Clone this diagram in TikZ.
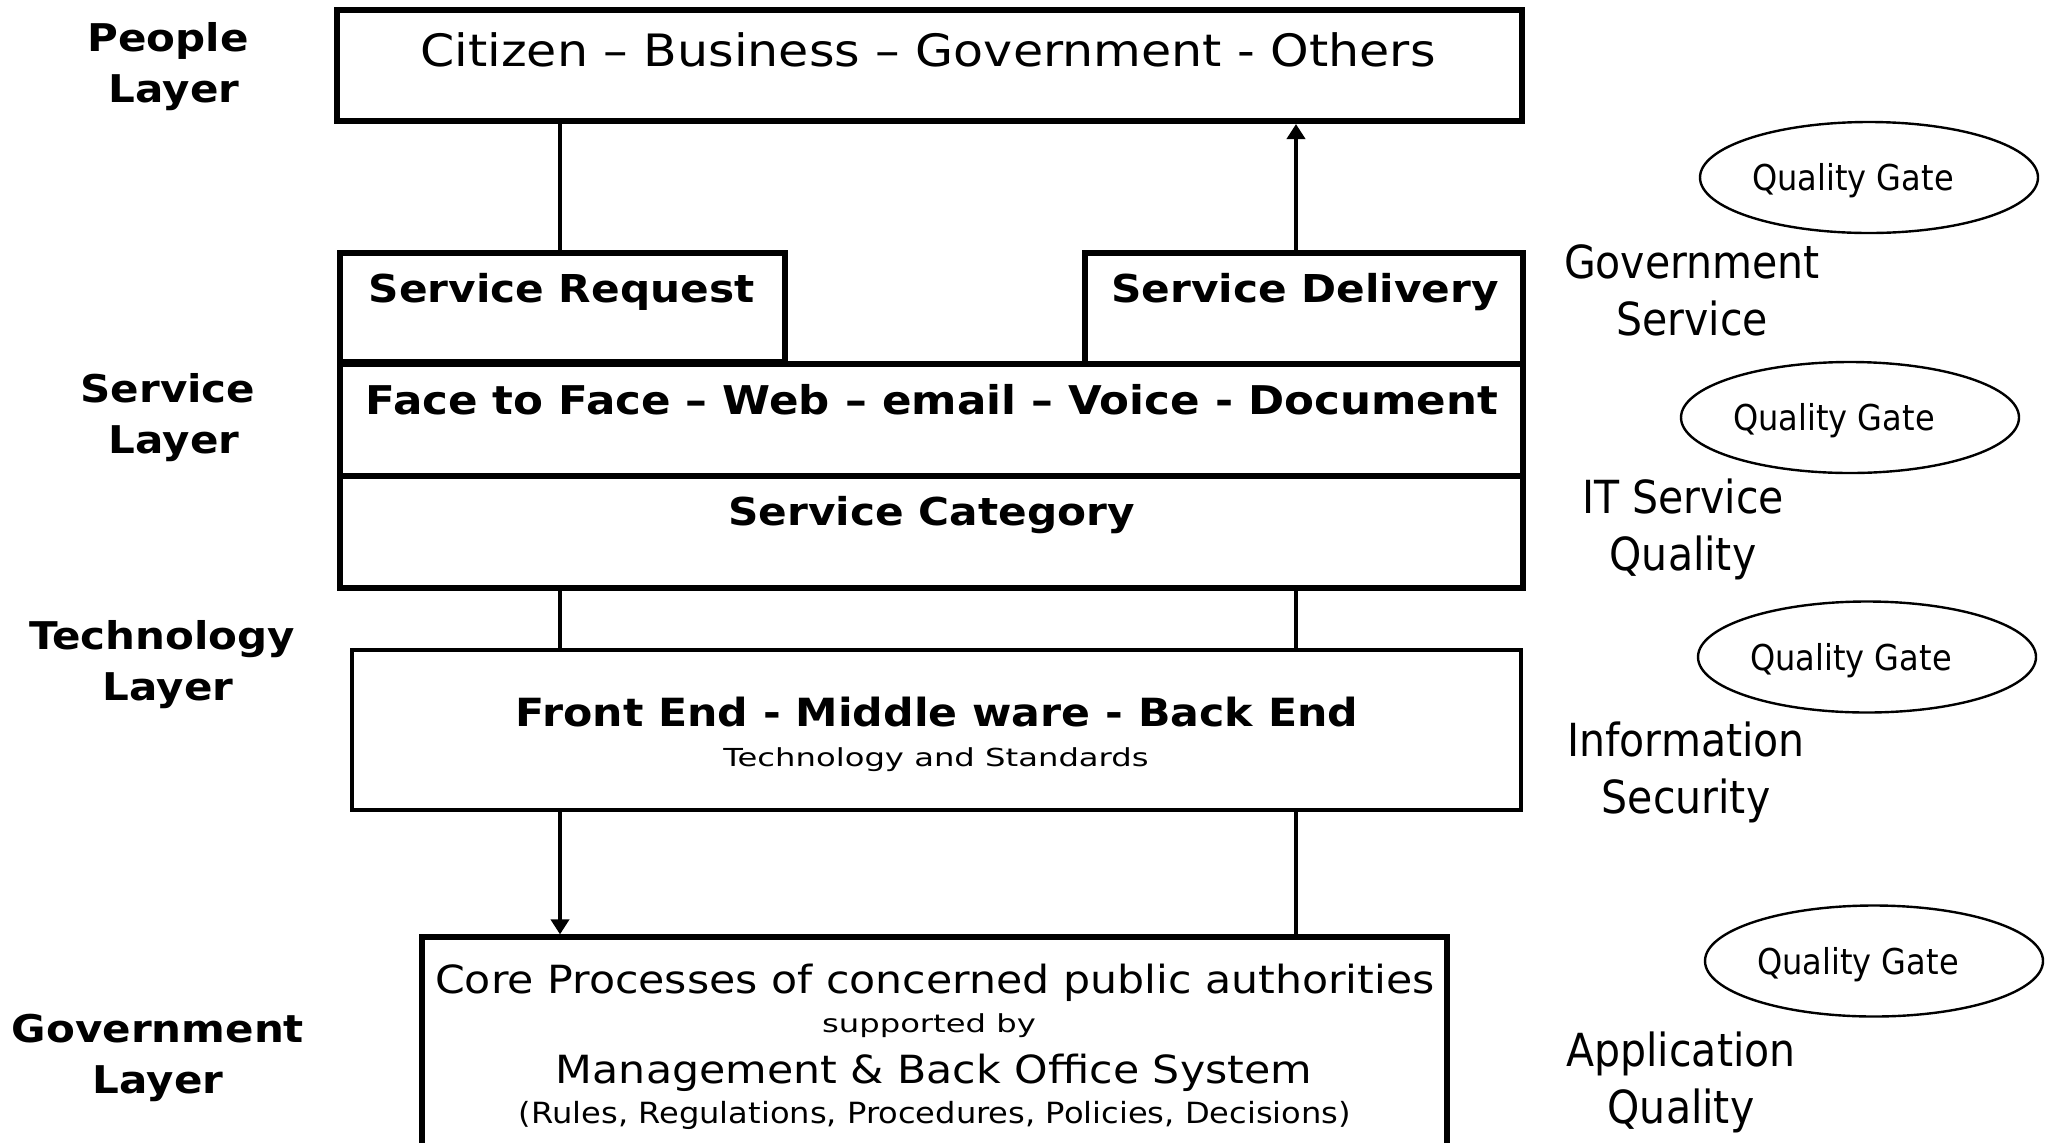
\documentclass[tikz,border=0pt]{standalone}
\usepackage{fontspec}
\setmainfont{DejaVu Sans}
\newfontfamily\fcen{DejaVu Sans}[FakeStretch=1.1]
\newfontfamily\fsml{DejaVu Sans}[FakeStretch=1.3]
\newfontfamily\frt{DejaVu Sans}[FakeStretch=0.9]
\newcommand\fsz[2]{\fontsize{#1}{#2}\selectfont}
\usetikzlibrary{arrows.meta,shapes.geometric}
\tikzset{
  box/.style={draw, rectangle, line width=3pt, inner sep=0pt},
  fbox/.style={draw, rectangle, line width=2.2pt, inner sep=0pt},
  cbox/.style={draw, rectangle, line width=2.6pt, inner sep=0pt},
  txt/.style={anchor=base, inner sep=0pt},
  ctxt/.style={txt, font=\fcen\fsz{19.4}{24}},
  cbold/.style={txt, font=\fcen\bfseries\fsz{19.2}{24}},
  ssml/.style={txt, font=\fsml\fsz{12.4}{15}},
  layer/.style={anchor=base, align=center, inner sep=0pt, font=\fcen\bfseries\fsz{19.1}{25.5}},
  rlab/.style={anchor=base, align=center, inner sep=0pt, font=\frt\fsz{22.8}{28.5}},
  gate/.style={ellipse, draw, line width=1.2pt, minimum width=169pt, minimum height=55.5pt,
    inner sep=0pt, text height=13pt, text depth=0pt, font=\frt\fsz{17.8}{20}},
  conn/.style={line width=2.2pt},
  arr/.style={conn, -{Triangle[width=9pt,length=7.5pt]}},
}
\begin{document}
\begin{tikzpicture}[x=0.5pt, y=-0.5pt]
\useasboundingbox (0,0) rectangle (2053,1142);
\clip (0,0) rectangle (2053,1142);
\fill[white] (0,0) rectangle (2053,1142);

% connector columns
\coordinate (lx) at (560,0);
\coordinate (rx) at (1296,0);

% boxes
\node[box, minimum width=592.5pt, minimum height=55.5pt] (tp) at (929.5,65.5) {};
\node[box, minimum width=222.5pt, minimum height=54.5pt] (sr) at (562.5,307.5) {};
\node[box, minimum width=219pt, minimum height=55.5pt] (sd) at (1304,308.5) {};
\node[box, minimum width=591.5pt, minimum height=56pt] (ff) at (931.5,420) {};
\node[box, minimum width=591.5pt, minimum height=56pt] (sc) at (931.5,532) {};
\node[fbox, minimum width=584.5pt, minimum height=80pt] (fe) at (936.5,730) {};
\node[cbox, minimum width=512.5pt, minimum height=131.5pt] (cp) at (934.5,1068.5) {};

% box texts
\node[ctxt, font=\fcen\fsz{22.3}{26}] (tpt) at (928,66) {Citizen – Business – Government - Others};
\node[cbold] (srt) at (561.5,302) {Service Request};
\node[cbold] (sdt) at (1305,302) {Service Delivery};
\node[cbold, font=\fcen\bfseries\fsz{19.8}{24}] (fft) at (932,414) {Face to Face – Web – email – Voice - Document};
\node[cbold] (sct) at (931.5,525) {Service Category};
\node[cbold, font=\fcen\bfseries\fsz{19.4}{24}] (fet) at (937,726) {Front End - Middle ware - Back End};
\node[ssml] (fes) at (936,766) {Technology and Standards};
\node[ctxt] (cp1) at (935,993) {Core Processes of concerned public authorities};
\node[ssml] (cp2) at (929,1032) {supported by};
\node[ctxt] (cp3) at (934,1083) {Management \& Back Office System};
\node[ctxt, font=\fcen\fsz{14.6}{18}] (cp4) at (935,1123) {(Rules, Regulations, Procedures, Policies, Decisions)};

% connectors
\draw[conn] (tp.south -| lx) -- (sr.north -| lx);
\draw[arr] (sd.north -| rx) -- (tp.south -| rx);
\draw[conn] (sc.south -| lx) -- (fe.north -| lx);
\draw[conn] (sc.south -| rx) -- (fe.north -| rx);
\draw[arr] (fe.south -| lx) -- (cp.north -| lx);
\draw[conn] (fe.south -| rx) -- (cp.north -| rx);

% layer labels (anchor = baseline of last line)
\node[layer] (pl) at (168,102) {People\\\hspace*{6pt}Layer};
\node[layer] (sl) at (168,453) {Service\\\hspace*{6pt}Layer};
\node[layer] (tl) at (162,700) {Technology\\\hspace*{6pt}Layer};
\node[layer] (gl) at (158,1093) {Government\\Layer};

% quality gates
\node[gate] (q1) at (1869,177.5) {Quality Gate\hspace{16pt}\mbox{}};
\node[gate] (q2) at (1850,417.5) {Quality Gate\hspace{16pt}\mbox{}};
\node[gate] (q3) at (1867,657) {Quality Gate\hspace{16pt}\mbox{}};
\node[gate] (q4) at (1874,961) {Quality Gate\hspace{16pt}\mbox{}};

% right labels (anchor = baseline of last line)
\node[rlab] (gs) at (1692,335) {Government\\Service};
\node[rlab] (its) at (1683,570) {IT Service\\Quality};
\node[rlab] (isec) at (1686,813) {Information\\Security};
\node[rlab] (aq) at (1681,1123) {Application\\Quality};
\end{tikzpicture}
\end{document}
